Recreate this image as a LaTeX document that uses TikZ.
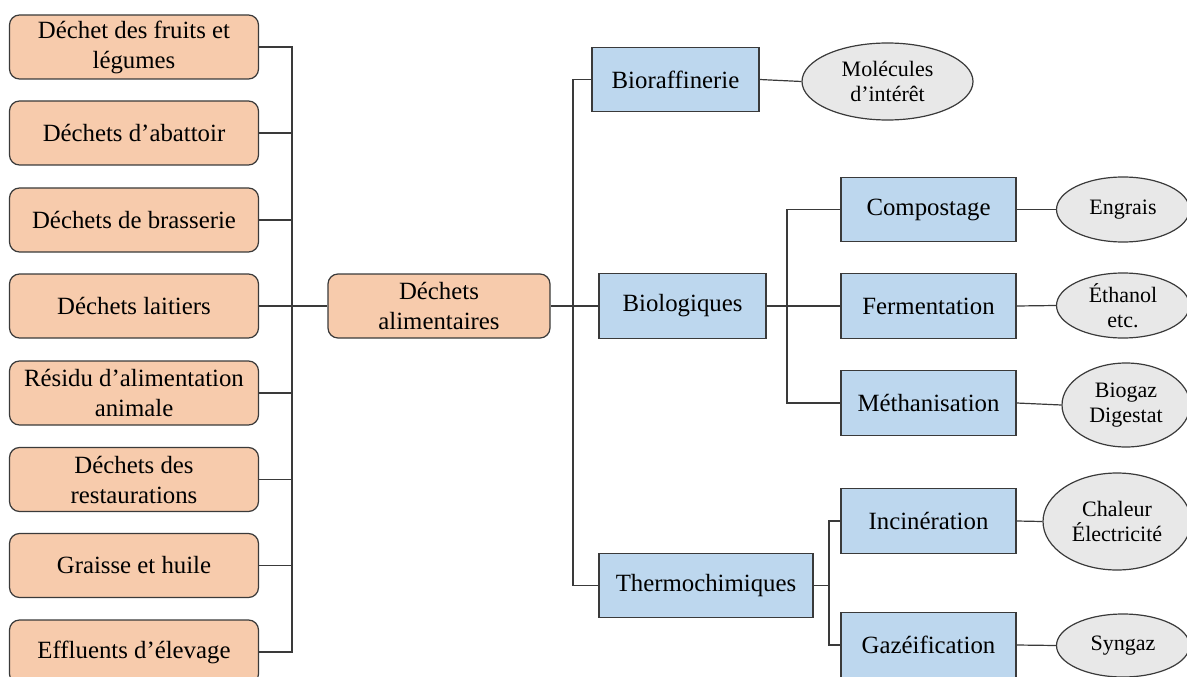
\documentclass[tikz,border=0pt]{standalone}
\usepackage{fontspec}
\setmainfont{Liberation Serif}
\usetikzlibrary{shapes.geometric}
\definecolor{peach}{HTML}{F7CBAC}
\definecolor{lblue}{HTML}{BDD7EE}
\definecolor{lgray}{HTML}{E8E8E8}
\definecolor{edge}{HTML}{3A3A3A}
\tikzset{
  src/.style={draw=edge, line width=0.9pt, fill=peach, rounded corners=7.5pt,
    minimum width=186.75pt, minimum height=48pt, inner sep=0pt, align=center,
    font=\fontsize{18.6}{22.5}\selectfont},
  proc/.style={draw=edge, line width=0.9pt, fill=lblue,
    minimum height=48.5pt, inner sep=0pt, align=center,
    font=\fontsize{18.6}{22.5}\selectfont},
  prod/.style={draw=edge, line width=0.9pt, fill=lgray, ellipse, inner sep=0pt,
    align=center, font=\fontsize{16.5}{19}\selectfont},
  conn/.style={draw=edge, line width=0.9pt}
}
\begin{document}
\begin{tikzpicture}[x=0.75pt,y=-0.75pt]
\useasboundingbox (0,0) rectangle (1187,677);
% sources
\node[src] (s1) at (134,47) {Déchet des fruits et\\légumes};
\node[src] (s2) at (134,133) {Déchets d’abattoir};
\node[src] (s3) at (134,220) {Déchets de brasserie};
\node[src] (s4) at (134,306) {Déchets laitiers};
\node[src] (s5) at (134,393) {Résidu d’alimentation\\animale};
\node[src] (s6) at (134,479.5) {Déchets des\\restaurations};
\node[src] (s7) at (134,565.5) {Graisse et huile};
\node[src] (s8) at (134,652) {Effluents d’élevage};
% centre
\node[src, minimum width=166.5pt] (c) at (439,306) {Déchets\\alimentaires};
% routes
\node[proc, minimum width=125.25pt] (braf) at (675.5,79.5) {Bioraffinerie};
\node[proc, minimum width=125.25pt] (bio) at (682.5,306) {Biologiques};
\node[proc, minimum width=160.5pt] (thm) at (706,585.5) {Thermochimiques};
% processes
\node[proc, minimum width=131.25pt] (comp) at (928.5,209.5) {Compostage};
\node[proc, minimum width=131.25pt] (ferm) at (928.5,306) {Fermentation};
\node[proc, minimum width=131.25pt] (meth) at (928.5,403) {Méthanisation};
\node[proc, minimum width=131.25pt] (inc) at (928.5,521) {Incinération};
\node[proc, minimum width=131.25pt] (gaz) at (928.5,645) {Gazéification};
% products
\node[prod, minimum width=128.25pt, minimum height=57.75pt] (mol) at (887.5,81.5) {Molécules\\d’intérêt};
\node[prod, minimum width=99.75pt, minimum height=48.75pt] (eng) at (1123,209.5) {Engrais};
\node[prod, minimum width=99.75pt, minimum height=48.75pt] (eth) at (1123,305.5) {Éthanol\\etc.};
\node[prod, minimum width=96pt, minimum height=63pt] (bgz) at (1126,405) {Biogaz\\Digestat};
\node[prod, minimum width=111pt, minimum height=72.75pt] (chal) at (1117,521.5) {Chaleur\\Électricité};
\node[prod, minimum width=99.75pt, minimum height=47.25pt] (syn) at (1123,645.5) {Syngaz};
% junctions
\coordinate (jL) at (292,306);
\coordinate (jC) at (573,306);
\coordinate (jB) at (787,306);
\coordinate (jT) at (829,585.5);
% connectors
\foreach \n in {s1,s2,s3,s5,s6,s7,s8}{\draw[conn] (\n.east) -| (jL);}
\draw[conn] (s4.east) -- (c.west);
\draw[conn] (c.east) -- (bio.west);
\draw[conn] (braf.west) -| (jC);
\draw[conn] (thm.west) -| (jC);
\draw[conn] (bio.east) -- (ferm.west);
\draw[conn] (comp.west) -| (jB);
\draw[conn] (meth.west) -| (jB);
\draw[conn] (thm.east) -- (jT);
\draw[conn] (inc.west) -| (jT);
\draw[conn] (gaz.west) -| (jT);
\draw[conn] (braf.east) -- (mol.west);
\draw[conn] (comp.east) -- (eng.west);
\draw[conn] (ferm.east) -- (eth.west);
\draw[conn] (meth.east) -- (bgz.west);
\draw[conn] (inc.east) -- (chal.west);
\draw[conn] (gaz.east) -- (syn.west);
\end{tikzpicture}
\end{document}
